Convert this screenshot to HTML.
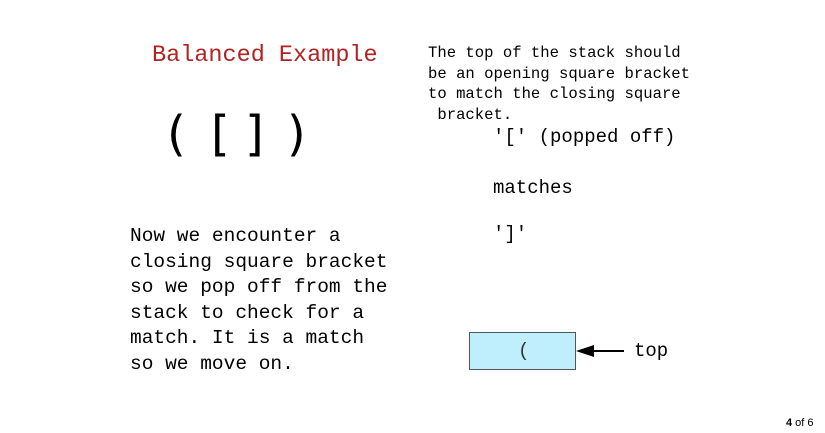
<!DOCTYPE html>
<html><head><style>
body{margin:0;width:825px;height:433px;background:#fff;position:relative;overflow:hidden;font-family:"Liberation Mono",monospace;}
.a{position:absolute;white-space:pre;line-height:1;}
.b{position:absolute;line-height:1;font-size:48px;font-family:'DejaVu Sans',sans-serif;top:110px;}
</style></head><body>
<div class="a" style="left:152px;top:44px;font-size:23.5px;color:#b22222;">Balanced Example</div>
<div class="b" style="left:167px;">(</div>
<div class="b" style="left:211px;">[</div>
<div class="b" style="left:245px;">]</div>
<div class="b" style="left:287px;">)</div>
<div class="a" style="left:130px;top:224px;font-size:19.5px;line-height:25.5px;">Now we encounter a
closing square bracket
so we pop off from the
stack to check for a
match. It is a match
so we move on.</div>
<div class="a" style="left:428px;top:43px;font-size:15.6px;line-height:20.6px;">The top of the stack should
be an opening square bracket
to match the closing square
 bracket.</div>
<div class="a" style="left:493px;top:128px;font-size:19px;">'[' (popped off)</div>
<div class="a" style="left:493px;top:179px;font-size:19px;">matches</div>
<div class="a" style="left:493px;top:225px;font-size:19px;">']'</div>
<div style="position:absolute;left:469px;top:332px;width:105px;height:36px;background:#bfeefc;border:1px solid #555;"></div>
<div class="a" style="left:518px;top:342px;font-size:19px;color:#333;">(</div>
<svg style="position:absolute;left:0;top:0" width="825" height="433">
<line x1="592" y1="351" x2="624" y2="351" stroke="#000" stroke-width="2"/>
<polygon points="576,351 594,345 594,357" fill="#000"/>
</svg>
<div class="a" style="left:634px;top:342px;font-size:19px;">top</div>
<div class="a" style="left:786px;top:418px;font-size:11px;font-family:'Liberation Sans',sans-serif;"><b>4</b> of 6</div>
</body></html>
